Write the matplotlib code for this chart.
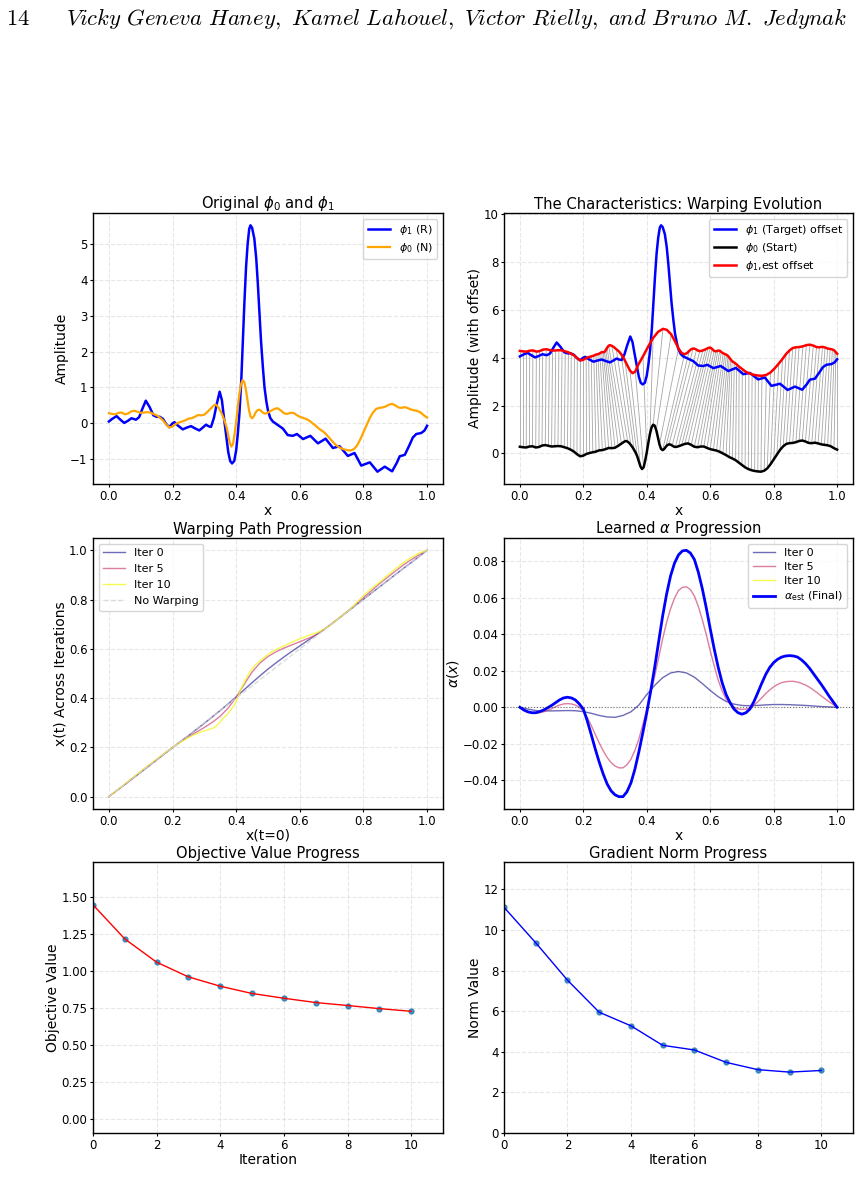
import numpy as np
import matplotlib
matplotlib.use("Agg")
import matplotlib.pyplot as plt

# ---------------- data ----------------
# phi0 (N) sampled on grid: 0.00..0.33 step .01, 0.335..0.50 step .005, 0.51..1.00 step .01
x0_grid = np.round(np.concatenate([np.arange(0, 0.331, 0.01),
                                   np.arange(0.335, 0.5001, 0.005),
                                   np.arange(0.51, 1.0001, 0.01)]), 3)
phi0 = [0.28, 0.26, 0.25, 0.29, 0.30, 0.25, 0.27, 0.33, 0.35, 0.32,
        0.29, 0.30, 0.31, 0.30, 0.26, 0.22, 0.16, 0.08, -0.03, -0.12,
        -0.09, -0.02, 0.02, 0.05, 0.08, 0.13, 0.14, 0.18, 0.23, 0.22,
        0.24, 0.32, 0.41, 0.50,
        0.52, 0.49, 0.43, 0.35, 0.26, 0.15, 0.03, -0.12, -0.33, -0.54,
        -0.65, -0.58, -0.30, 0.05, 0.45, 0.82, 1.08, 1.20, 1.16, 0.97,
        0.68, 0.38, 0.19, 0.14, 0.19, 0.28, 0.35, 0.38, 0.37, 0.33,
        0.29, 0.27, 0.28, 0.30,
        0.35, 0.40, 0.42, 0.36, 0.28, 0.26, 0.29, 0.29, 0.23, 0.18,
        0.15, 0.12, 0.07, 0.00, -0.07, -0.15, -0.21, -0.28, -0.38, -0.48,
        -0.58, -0.65, -0.70, -0.73, -0.75, -0.76, -0.72, -0.62, -0.45, -0.25,
        -0.05, 0.15, 0.30, 0.40, 0.43, 0.44, 0.47, 0.52, 0.54, 0.50,
        0.44, 0.43, 0.45, 0.42, 0.38, 0.36, 0.34, 0.30, 0.22, 0.16]

# final warp x(t=1) of each phi0 sample (iteration 10)
warp_iter10 = [0.000, 0.010, 0.021, 0.031, 0.041, 0.052, 0.062, 0.072, 0.083, 0.093,
               0.103, 0.113, 0.123, 0.133, 0.143, 0.153, 0.162, 0.172, 0.181, 0.191,
               0.200, 0.209, 0.217, 0.225, 0.233, 0.240, 0.246, 0.252, 0.258, 0.263,
               0.267, 0.271, 0.275, 0.280,
               0.284, 0.290, 0.297, 0.304, 0.312, 0.319, 0.325, 0.331, 0.339, 0.347,
               0.355, 0.364, 0.373, 0.388, 0.404, 0.420, 0.436, 0.451, 0.463, 0.477,
               0.489, 0.500, 0.510, 0.519, 0.527, 0.534, 0.540, 0.546, 0.551, 0.557,
               0.562, 0.567, 0.572, 0.577,
               0.586, 0.593, 0.600, 0.606, 0.612, 0.618, 0.624, 0.630, 0.635, 0.641,
               0.646, 0.651, 0.656, 0.660, 0.664, 0.669, 0.676, 0.683, 0.691, 0.701,
               0.711, 0.722, 0.732, 0.742, 0.752, 0.763, 0.777, 0.790, 0.803, 0.816,
               0.828, 0.839, 0.850, 0.860, 0.870, 0.880, 0.892, 0.903, 0.914, 0.925,
               0.935, 0.944, 0.954, 0.962, 0.970, 0.978, 0.985, 0.991, 0.996, 1.000]

# phi1 (R)
phi1_x = [0.000, 0.010, 0.024, 0.036, 0.048, 0.060, 0.071, 0.085, 0.095, 0.105,
          0.116, 0.128, 0.140, 0.150, 0.160, 0.170, 0.180, 0.190, 0.200, 0.206,
          0.215, 0.232, 0.245, 0.258, 0.270, 0.284, 0.295, 0.305, 0.315, 0.321,
          0.330, 0.338, 0.348, 0.355, 0.361, 0.368, 0.375, 0.381, 0.387, 0.394,
          0.400, 0.405, 0.410, 0.416, 0.421, 0.426, 0.431, 0.436, 0.441, 0.445,
          0.450, 0.457, 0.463, 0.468, 0.473, 0.478, 0.484, 0.489, 0.495, 0.500,
          0.507, 0.515, 0.531, 0.547, 0.562, 0.578, 0.591, 0.610, 0.633, 0.657,
          0.681, 0.704, 0.725, 0.751, 0.772, 0.793, 0.820, 0.844, 0.867, 0.890,
          0.905, 0.914, 0.930, 0.945, 0.955, 0.966, 0.982, 0.992, 1.000]
phi1_y = [0.05, 0.12, 0.20, 0.10, 0.01, 0.07, 0.14, 0.10, 0.17, 0.40,
          0.63, 0.45, 0.22, 0.18, 0.18, 0.12, -0.02, -0.11, 0.00, 0.03,
          -0.05, -0.17, -0.12, -0.08, -0.14, -0.20, -0.12, -0.04, -0.09, -0.10,
          0.15, 0.50, 0.88, 0.65, 0.20, -0.30, -0.80, -1.05, -1.12, -1.05,
          -0.75, -0.30, 0.25, 1.20, 2.30, 3.40, 4.35, 5.00, 5.42, 5.52,
          5.45, 5.15, 4.60, 3.90, 3.10, 2.30, 1.55, 1.00, 0.60, 0.35,
          0.15, 0.05, -0.05, -0.15, -0.33, -0.35, -0.30, -0.44, -0.35, -0.56,
          -0.43, -0.69, -0.64, -0.91, -0.83, -1.18, -1.09, -1.35, -1.21, -1.34,
          -1.10, -0.92, -0.88, -0.60, -0.40, -0.30, -0.27, -0.20, -0.07]

offset = 4.0

# warping paths on a 0.025 grid
x_path = np.round(np.arange(0, 1.0001, 0.025), 4)
warp_iter0 = [0.000, 0.025, 0.049, 0.074, 0.099, 0.124, 0.149, 0.174, 0.199, 0.224,
              0.248, 0.273, 0.298, 0.324, 0.350, 0.377, 0.405, 0.434, 0.463, 0.491,
              0.518, 0.543, 0.567, 0.590, 0.612, 0.634, 0.656, 0.678, 0.701, 0.726,
              0.751, 0.776, 0.801, 0.826, 0.851, 0.876, 0.901, 0.926, 0.950, 0.975, 1.000]
warp_iter5 = [0.000, 0.025, 0.050, 0.076, 0.101, 0.126, 0.151, 0.176, 0.200, 0.222,
              0.243, 0.262, 0.281, 0.302, 0.327, 0.360, 0.404, 0.456, 0.506, 0.543,
              0.569, 0.588, 0.603, 0.616, 0.629, 0.642, 0.656, 0.677, 0.702, 0.727,
              0.753, 0.780, 0.808, 0.836, 0.864, 0.890, 0.915, 0.940, 0.962, 0.982, 1.000]

# learned alpha: iteration 0 on the 0.025 grid, iteration 5 and final on a 0.0125 grid
alpha_iter0 = [0.0000, -0.0010, -0.0018, -0.0020, -0.0020, -0.0019, -0.0018, -0.0019, -0.0024, -0.0033,
               -0.0045, -0.0053, -0.0055, -0.0045, -0.0025, 0.0012, 0.0070, 0.0120, 0.0162, 0.0188,
               0.0196, 0.0188, 0.0165, 0.0130, 0.0092, 0.0058, 0.0032, 0.0017, 0.0010, 0.0008,
               0.0010, 0.0013, 0.0015, 0.0015, 0.0014, 0.0012, 0.0010, 0.0007, 0.0004, 0.0002, 0.0000]
x_alpha = np.round(np.arange(0, 1.0001, 0.0125), 4)
alpha_iter5 = [0.0000, -0.0014, -0.0025, -0.0030, -0.0032, -0.0030, -0.0025, -0.0017, -0.0008, 0.0003,
               0.0012, 0.0018, 0.0020, 0.0018, 0.0012, 0.0000, -0.0020, -0.0055, -0.0100, -0.0148,
               -0.0195, -0.0238, -0.0275, -0.0303, -0.0322, -0.0332, -0.0332, -0.0315, -0.0285, -0.0237,
               -0.0175, -0.0095, -0.0010, 0.0078, 0.0170, 0.0272, 0.0375, 0.0465, 0.0540, 0.0598,
               0.0640, 0.0657, 0.0660, 0.0645, 0.0610, 0.0552, 0.0480, 0.0398, 0.0310, 0.0227,
               0.0150, 0.0090, 0.0045, 0.0017, 0.0000, -0.0009, -0.0012, -0.0010, -0.0005, 0.0010,
               0.0030, 0.0052, 0.0075, 0.0095, 0.0112, 0.0125, 0.0135, 0.0140, 0.0142, 0.0142,
               0.0138, 0.0131, 0.0122, 0.0110, 0.0095, 0.0079, 0.0062, 0.0046, 0.0030, 0.0015, 0.0000]
alpha_final = [0.0000, -0.0015, -0.0025, -0.0030, -0.0030, -0.0024, -0.0015, -0.0003, 0.0010, 0.0025,
               0.0040, 0.0051, 0.0055, 0.0051, 0.0040, 0.0018, -0.0010, -0.0075, -0.0150, -0.0228,
               -0.0300, -0.0365, -0.0420, -0.0458, -0.0480, -0.0490, -0.0490, -0.0463, -0.0415, -0.0340,
               -0.0245, -0.0140, -0.0030, 0.0090, 0.0220, 0.0360, 0.0500, 0.0620, 0.0720, 0.0790,
               0.0835, 0.0857, 0.0860, 0.0845, 0.0810, 0.0740, 0.0650, 0.0545, 0.0430, 0.0320,
               0.0220, 0.0135, 0.0070, 0.0025, -0.0010, -0.0030, -0.0038, -0.0030, -0.0010, 0.0030,
               0.0080, 0.0132, 0.0180, 0.0218, 0.0245, 0.0263, 0.0275, 0.0281, 0.0283, 0.0281,
               0.0275, 0.0260, 0.0240, 0.0215, 0.0185, 0.0155, 0.0125, 0.0093, 0.0060, 0.0030, 0.0000]

iterations = list(range(11))
objective = [1.444, 1.214, 1.057, 0.958, 0.895, 0.846, 0.814, 0.785, 0.765, 0.744, 0.726]
grad_norm = [11.12, 9.37, 7.53, 5.95, 5.28, 4.32, 4.09, 3.48, 3.12, 3.00, 3.08]

# ---------------- figure ----------------
plt.rcParams.update({
    "font.family": "DejaVu Sans",
    "axes.titlesize": 10.6,
    "axes.labelsize": 10,
    "xtick.labelsize": 8.5,
    "ytick.labelsize": 8.5,
    "legend.fontsize": 8,
    "legend.labelspacing": 0.35,
    "axes.titlepad": 3,
    "axes.labelpad": 1,
    "axes.linewidth": 1.0,
    "xtick.major.size": 2.5,
    "ytick.major.size": 2.5,
    "xtick.major.pad": 1.5,
    "ytick.major.pad": 1.5,
})

W, H = 861, 1200
fig = plt.figure(figsize=(W / 100, H / 100), dpi=100)

def add_ax(left, top, right, bottom):
    return fig.add_axes([left / W, 1 - bottom / H, (right - left) / W, (bottom - top) / H])

ax1 = add_ax(93, 213, 443, 484)
ax2 = add_ax(504, 213, 853, 484)
ax3 = add_ax(93, 538, 443, 809)
ax4 = add_ax(504, 538, 853, 809)
ax5 = add_ax(93, 862, 443, 1133)
ax6 = add_ax(504, 862, 853, 1133)

for ax in (ax1, ax2, ax3, ax4, ax5, ax6):
    ax.grid(True, linestyle="--", alpha=0.3)

phi0 = np.array(phi0)
x0_grid = np.array(x0_grid)
warp_iter10 = np.array(warp_iter10)

# Panel 1
ax1.plot(phi1_x, phi1_y, color="blue", lw=1.8, label=r"$\phi_1$ (R)")
ax1.plot(x0_grid, phi0, color="orange", lw=1.6, label=r"$\phi_0$ (N)")
ax1.set_title(r"Original $\phi_0$ and $\phi_1$")
ax1.set_xlabel("x")
ax1.set_ylabel("Amplitude")
ax1.legend(loc="upper right")

# Panel 2
line_mask = np.isclose(np.round(x0_grid * 100), x0_grid * 100)
for xa, ya, xb in zip(x0_grid[line_mask], phi0[line_mask], warp_iter10[line_mask]):
    ax2.plot([xa, xb], [ya, ya + offset], color="gray", lw=0.6, alpha=0.7, zorder=1)
ax2.plot(phi1_x, np.array(phi1_y) + offset, color="blue", lw=1.8, label=r"$\phi_1$ (Target) offset", zorder=3)
ax2.plot(x0_grid, phi0, color="black", lw=1.8, label=r"$\phi_0$ (Start)", zorder=3)
ax2.plot(warp_iter10, phi0 + offset, color="red", lw=1.8, label=r"$\phi_1$,est offset", zorder=3)
ax2.set_title("The Characteristics: Warping Evolution")
ax2.set_xlabel("x")
ax2.set_ylabel("Amplitude (with offset)")
ax2.legend(loc="upper right")

# Panel 3
cols = plt.cm.plasma(np.linspace(0, 1, 3))
ax3.plot(x_path, warp_iter0, color=cols[0], lw=1.0, alpha=0.6, label="Iter 0")
ax3.plot(x_path, warp_iter5, color=cols[1], lw=1.0, alpha=0.7, label="Iter 5")
ax3.plot(x0_grid, warp_iter10, color=cols[2], lw=1.0, alpha=0.8, label="Iter 10")
ax3.plot([0, 1], [0, 1], color="lightgray", ls="--", lw=1.0, alpha=0.8, label="No Warping")
ax3.set_title("Warping Path Progression")
ax3.set_xlabel("x(t=0)")
ax3.set_ylabel("x(t) Across Iterations")
ax3.legend(loc="upper left", labelspacing=0.55)

# Panel 4
ax4.plot(x_path, alpha_iter0, color=cols[0], lw=1.0, alpha=0.6, label="Iter 0")
ax4.plot(x_alpha, alpha_iter5, color=cols[1], lw=1.0, alpha=0.7, label="Iter 5")
ax4.plot(x_alpha, alpha_final, color=cols[2], lw=1.0, alpha=0.8, label="Iter 10")
ax4.plot(x_alpha, alpha_final, color="blue", lw=2.0, label=r"$\alpha_{\mathrm{est}}$ (Final)")
ax4.axhline(0, color="black", ls=":", lw=0.8, alpha=0.5)
ax4.set_title(r"Learned $\alpha$ Progression")
ax4.set_xlabel("x")
ax4.set_ylabel(r"$\alpha(x)$")
ax4.legend(loc="upper right")

# Panel 5
ax5.plot(iterations, objective, "o", color="tab:blue", ms=3.5, alpha=0.8)
ax5.plot(iterations, objective, "-", color="red", lw=1.0)
ax5.set_xlim(0, 11)
ax5.set_ylim(-0.095, 1.733)
ax5.set_title("Objective Value Progress")
ax5.set_xlabel("Iteration")
ax5.set_ylabel("Objective Value")

# Panel 6
ax6.plot(iterations, grad_norm, "o", color="tab:blue", ms=3.5, alpha=0.8)
ax6.plot(iterations, grad_norm, "-", color="blue", lw=1.0)
ax6.set_xlim(0, 11)
ax6.set_ylim(0, 13.35)
ax6.set_title("Gradient Norm Progress")
ax6.set_xlabel("Iteration")
ax6.set_ylabel("Norm Value")

# Page header
fig.text(6 / W, 1 - 25 / H, "$14$", fontsize=16.3, math_fontfamily="cm", ha="left", va="baseline")
fig.text(66 / W, 1 - 25 / H,
         r"$\mathit{Vicky\ Geneva\ Haney,\ Kamel\ Lahouel,\ Victor\ Rielly,\ and\ Bruno\ M.\ Jedynak}$",
         fontsize=16.3, math_fontfamily="cm", ha="left", va="baseline")

fig.savefig("out.png", dpi=100)
